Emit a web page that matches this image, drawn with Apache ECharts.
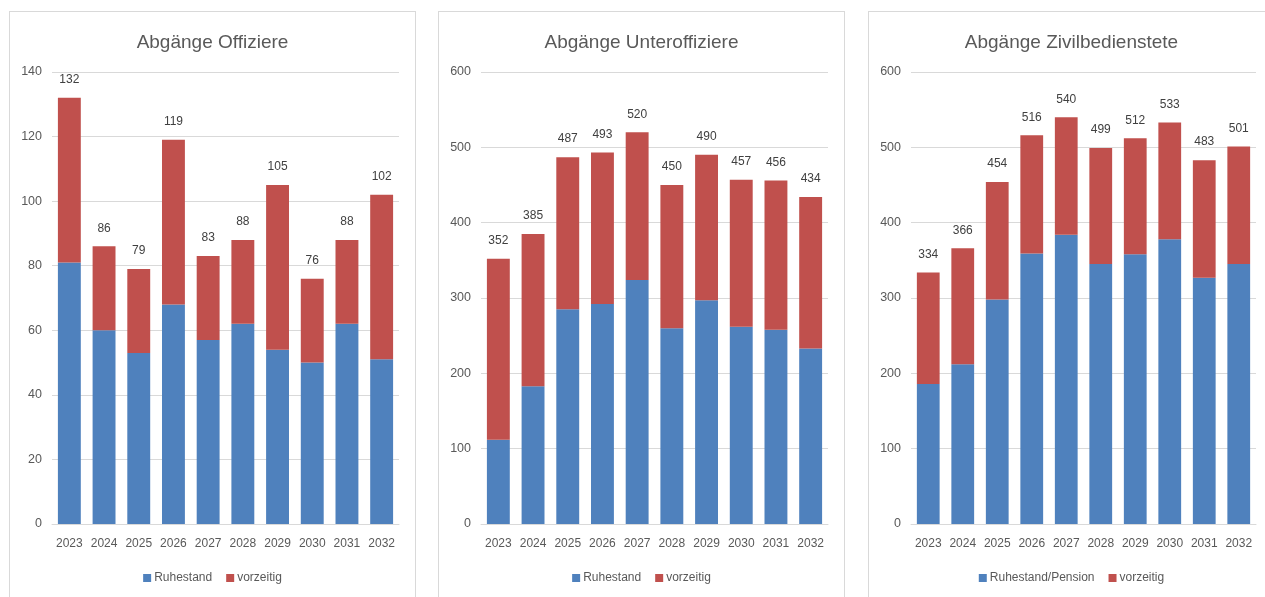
<!DOCTYPE html>
<html>
<head>
<meta charset="utf-8">
<script src="https://cdn.jsdelivr.net/npm/echarts@6/dist/echarts.min.js"></script>
<style>
  html, body { margin: 0; padding: 0; background: #ffffff; width: 1265px; height: 597px; overflow: hidden; }
  .panel { position: absolute; top: 11px; width: 407px; height: 600px; border: 1px solid #d9d9d9; box-sizing: border-box; background: #fff; }
</style>
</head>
<body>
<div id="p1" class="panel" style="left:9px;"></div>
<div id="p2" class="panel" style="left:438px;"></div>
<div id="p3" class="panel" style="left:868px;"></div>
<script>
const years = ['2023','2024','2025','2026','2027','2028','2029','2030','2031','2032'];

const titles = ['Abgänge Offiziere', 'Abgänge Unteroffiziere', 'Abgänge Zivilbedienstete'];
const legendBlue = ['Ruhestand', 'Ruhestand', 'Ruhestand/Pension'];
const legendRed = 'vorzeitig';

const offRuhestand = [81, 60, 53, 68, 57, 62, 54, 50, 62, 51];
const offVorzeitig = [51, 26, 26, 51, 26, 26, 51, 26, 26, 51];

const uffzRuhestand = [112, 183, 285, 292, 324, 260, 297, 262, 258, 233];
const uffzVorzeitig = [240, 202, 202, 201, 196, 190, 193, 195, 198, 201];

const zivRuhestand = [186, 212, 298, 359, 384, 345, 358, 378, 327, 345];
const zivVorzeitig = [148, 154, 156, 157, 156, 154, 154, 155, 156, 156];

const yMax = [140, 600, 600];
const yInterval = [20, 100, 100];

const BLUE = '#4F81BD';
const RED = '#C0504D';
const TXT = '#595959';
const FONT = '"Liberation Sans", Arial, sans-serif';

function build(id, idx, blue, red, gridRight) {
  const chart = echarts.init(document.getElementById(id), null, { renderer: 'canvas' });
  chart.setOption({
    animation: false,
    textStyle: { fontFamily: FONT },
    title: {
      text: titles[idx],
      left: 'center',
      top: 16,
      textStyle: { fontFamily: FONT, fontSize: 19, fontWeight: 'normal', color: TXT }
    },
    legend: {
      data: [legendBlue[idx], legendRed],
      left: 'center',
      top: 555,
      icon: 'rect',
      itemWidth: 8,
      itemHeight: 8,
      itemGap: 14,
      textStyle: { fontFamily: FONT, fontSize: 12, color: TXT, padding: [0, 0, 0, -2] }
    },
    grid: { left: 42, right: gridRight, top: 60, height: 452, containLabel: false },
    xAxis: {
      type: 'category',
      data: years,
      axisLine: { show: true, lineStyle: { color: '#d9d9d9', width: 1 } },
      axisTick: { show: false },
      axisLabel: { color: TXT, fontSize: 12, fontFamily: FONT, margin: 14, interval: 0 }
    },
    yAxis: {
      type: 'value',
      min: 0,
      max: yMax[idx],
      interval: yInterval[idx],
      axisLine: { show: false },
      axisTick: { show: false },
      splitLine: { lineStyle: { color: '#d9d9d9', width: 1 } },
      axisLabel: { color: TXT, fontSize: 12.5, fontFamily: FONT, margin: 10 }
    },
    series: [
      {
        name: legendBlue[idx],
        type: 'bar',
        stack: 's',
        data: blue,
        barCategoryGap: '34%',
        itemStyle: { color: BLUE }
      },
      {
        name: legendRed,
        type: 'bar',
        stack: 's',
        data: red,
        barCategoryGap: '34%',
        itemStyle: { color: RED },
        label: {
          show: true,
          position: 'top',
          distance: 12,
          color: '#404040',
          fontSize: 12,
          fontFamily: FONT,
          formatter: p => String(blue[p.dataIndex] + red[p.dataIndex])
        }
      }
    ]
  });
}

build('p1', 0, offRuhestand, offVorzeitig, 16);
build('p2', 1, uffzRuhestand, uffzVorzeitig, 16);
build('p3', 2, zivRuhestand, zivVorzeitig, 18);
</script>
</body>
</html>
